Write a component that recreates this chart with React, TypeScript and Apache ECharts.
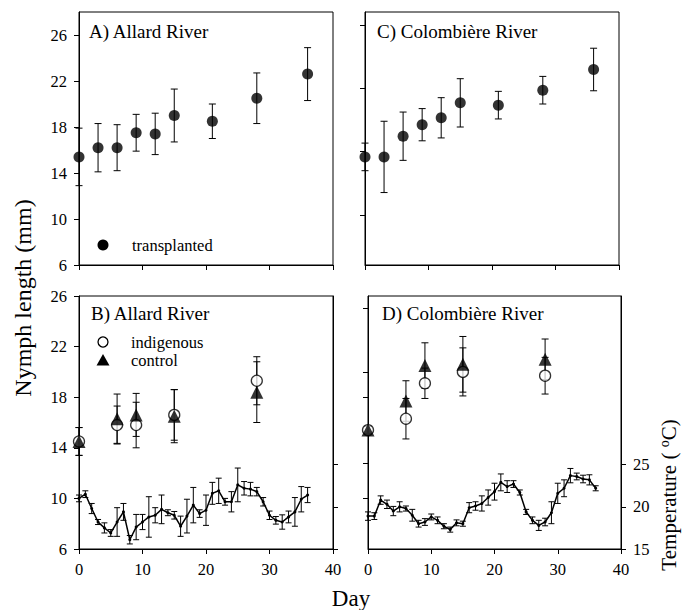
import React, { useEffect, useRef } from 'react';
import * as echarts from 'echarts';

const FONT = 'Liberation Serif, DejaVu Serif, serif';

// ---- Top panels: transplanted nymphs ----
const daysTop = [0, 3, 6, 9, 12, 15, 21, 28, 36];
const allardTransplanted = [15.4, 16.2, 16.2, 17.5, 17.4, 19.0, 18.5, 20.5, 22.6];
const allardTransplantedSD = [2.5, 2.1, 2.0, 1.6, 1.8, 2.3, 1.5, 2.2, 2.3];
const colombiereTransplanted = [15.4, 15.4, 17.2, 18.2, 18.8, 20.1, 19.9, 21.2, 23.0];
const colombiereTransplantedSD = [1.2, 3.1, 2.1, 1.4, 1.75, 2.1, 1.2, 1.2, 1.85];

// ---- Bottom panels: indigenous and control ----
const daysBottom = [0, 6, 9, 15, 28];
const allardIndigenous = [14.5, 15.8, 15.8, 16.6, 19.3];
const allardIndigenousSD = [1.1, 1.5, 1.8, 2.0, 1.9];
const allardControl = [14.5, 16.3, 16.6, 16.5, 18.4];
const allardControlSD = [1.1, 1.95, 1.7, 2.1, 2.4];
const colombiereIndigenous = [15.4, 16.3, 19.1, 20.0, 19.7];
const colombiereIndigenousSD = [0.3, 1.6, 1.2, 1.9, 1.45];
const colombiereControl = [15.4, 17.7, 20.5, 20.6, 21.0];
const colombiereControlSD = [0.3, 1.6, 1.8, 2.2, 1.6];

// ---- Daily water temperature (°C) ----
const tempDays = [0, 1, 2, 3, 4, 5, 6, 7, 8, 9, 10, 11, 12, 13, 14, 15, 16, 17, 18, 19, 20, 21, 22, 23, 24, 25, 26, 27, 28, 29, 30, 31, 32, 33, 34, 35, 36];
const allardTemp = [21.0, 21.5, 19.8, 18.2, 17.5, 16.9, 18.2, 19.4, 16.1, 17.6, 18.2, 18.8, 19.0, 19.7, 19.3, 19.0, 17.7, 18.9, 20.2, 19.2, 19.6, 21.6, 21.9, 20.6, 20.6, 22.6, 22.2, 22.1, 21.8, 20.6, 19.0, 18.4, 18.2, 18.8, 19.4, 20.9, 21.4];
const allardTempSD = [0.4, 0.4, 0.6, 0.3, 0.6, 0.4, 1.7, 1.0, 0.5, 1.5, 0.9, 2.4, 0.9, 1.7, 0.35, 0.45, 1.2, 2.0, 2.1, 0.45, 1.8, 1.3, 1.5, 0.4, 1.2, 2.0, 0.8, 0.8, 0.5, 0.5, 0.5, 0.45, 0.85, 0.7, 1.7, 1.5, 0.9];
const colombiereTemp = [18.9, 18.9, 20.8, 20.3, 19.5, 20.0, 19.8, 19.0, 18.0, 18.2, 18.8, 18.4, 17.7, 17.3, 18.1, 18.0, 19.9, 20.1, 20.4, 21.1, 21.8, 22.9, 22.4, 22.7, 21.7, 19.4, 18.4, 17.8, 18.2, 19.3, 21.6, 22.2, 23.7, 23.6, 23.3, 23.2, 22.2];
const colombiereTempSD = [0.5, 0.4, 0.5, 0.5, 0.55, 0.6, 0.3, 0.7, 0.4, 0.4, 0.35, 0.4, 0.3, 0.3, 0.35, 0.3, 0.6, 0.5, 0.9, 0.9, 1.0, 1.0, 0.7, 0.4, 0.3, 0.3, 0.4, 0.6, 0.45, 1.3, 1.2, 1.0, 0.85, 0.4, 0.45, 0.6, 0.3];

// ---- Tick values ----
const lengthTicks = [6, 10, 14, 18, 22, 26];
const tempTicks = [15, 20, 25];
const colombiereTopLeftTicks = [10.35, 15.85, 21.35, 26.85];
const colombiereBottomLeftTicks = [10, 12.8, 18, 20, 25];

const pts = (xs: number[], ys: number[]) => xs.map((x, i) => [x, ys[i]]);
const errData = (xs: number[], ys: number[], sd: number[]) =>
  xs.map((x, i) => [x, ys[i] - sd[i], ys[i] + sd[i]]);

const errSeries = (xi: number, yi: number, data: number[][], cap: number) => ({
  type: 'custom',
  xAxisIndex: xi,
  yAxisIndex: yi,
  data,
  encode: { x: 0, y: [1, 2] },
  z: 1,
  silent: true,
  renderItem: (_params: any, api: any) => {
    const x = api.value(0);
    const lo = api.coord([x, api.value(1)]);
    const hi = api.coord([x, api.value(2)]);
    const st = { stroke: '#000', lineWidth: 1 };
    return {
      type: 'group',
      children: [
        { type: 'line', shape: { x1: lo[0], y1: lo[1], x2: hi[0], y2: hi[1] }, style: st },
        { type: 'line', shape: { x1: lo[0] - cap, y1: lo[1], x2: lo[0] + cap, y2: lo[1] }, style: st },
        { type: 'line', shape: { x1: hi[0] - cap, y1: hi[1], x2: hi[0] + cap, y2: hi[1] }, style: st },
      ],
    };
  },
});

const xAxisDef = (gridIndex: number, showLabels: boolean) => ({
  type: 'value',
  gridIndex,
  min: 0,
  max: 40,
  interval: 10,
  axisLine: { show: true, onZero: false, lineStyle: { color: '#000', width: 1 } },
  axisTick: { show: true, inside: false, length: 5, lineStyle: { color: '#000', width: 1 } },
  axisLabel: { show: showLabels, color: '#000', fontFamily: FONT, fontSize: 16.5, margin: 12 },
  splitLine: { show: false },
});

const yAxisDef = (
  gridIndex: number,
  min: number,
  max: number,
  ticks: number[],
  showLabels: boolean,
  position: 'left' | 'right' = 'left'
) => ({
  type: 'value',
  gridIndex,
  position,
  min,
  max,
  axisLine: { show: true, onZero: false, lineStyle: { color: '#000', width: 1 } },
  axisTick: { show: true, inside: false, length: 5, customValues: ticks, lineStyle: { color: '#000', width: 1 } },
  axisLabel: { show: showLabels, customValues: ticks, color: '#000', fontFamily: FONT, fontSize: 16.5, margin: 12 },
  splitLine: { show: false },
});

const openCircle = { color: '#fff', borderColor: '#000', borderWidth: 1.3 };

const txt = (text: string, x: number, y: number, size: number, extra: any = {}) => ({
  type: 'text',
  x,
  y,
  ...extra,
  style: { text, fontSize: size, fontFamily: FONT, fill: '#000', align: 'left', verticalAlign: 'middle', ...(extra.style || {}) },
});

export default function App() {
  const ref = useRef<HTMLDivElement>(null);

  useEffect(() => {
    if (!ref.current) return;
    const chart = echarts.init(ref.current, null, { renderer: 'svg' });
    const gridBase = { show: true, borderColor: '#000', borderWidth: 1, backgroundColor: 'transparent', containLabel: false, outerBoundsMode: 'none' };
    const option: any = {
      animation: false,
      backgroundColor: '#fff',
      textStyle: { fontFamily: FONT },
      grid: [
        { ...gridBase, left: 79, top: 12, width: 254, height: 253 },
        { ...gridBase, left: 365, top: 12, width: 254, height: 253 },
        { ...gridBase, left: 79, top: 296, width: 254, height: 253 },
        { ...gridBase, left: 368, top: 296, width: 253, height: 253 },
      ],
      xAxis: [xAxisDef(0, false), xAxisDef(1, false), xAxisDef(2, true), xAxisDef(3, true)],
      yAxis: [
        yAxisDef(0, 6, 28, lengthTicks, true),
        yAxisDef(1, 6, 28, colombiereTopLeftTicks, false),
        yAxisDef(2, 6, 26, lengthTicks, true),
        yAxisDef(3, 6, 26, colombiereBottomLeftTicks, false),
        yAxisDef(2, 15, 45, tempTicks, false, 'right'),
        yAxisDef(3, 15, 45, tempTicks, true, 'right'),
      ],
      graphic: [
        txt('A) Allard River', 89, 31, 19),
        txt('C) Colombière River', 377, 31, 19),
        txt('B) Allard River', 91, 313, 19),
        txt('D) Colombière River', 382, 313, 19),
        // legends
        { type: 'circle', shape: { cx: 103, cy: 245, r: 5.5 }, style: { fill: '#000' } },
        txt('transplanted', 132, 245, 16.5),
        { type: 'circle', shape: { cx: 103, cy: 342, r: 5 }, style: { fill: '#fff', stroke: '#000', lineWidth: 1.3 } },
        txt('indigenous', 131, 342, 16.5),
        { type: 'polygon', shape: { points: [[96.5, 365.5], [109.5, 365.5], [103, 354]] }, style: { fill: '#000' } },
        txt('control', 131, 360, 16.5),
        // axis titles
        txt('Nymph length (mm)', 23, 298, 24, { rotation: Math.PI / 2, style: { align: 'center' } }),
        txt('Day', 351, 598, 23, { style: { align: 'center' } }),
        {
          type: 'text',
          x: 668,
          y: 495,
          rotation: Math.PI / 2,
          style: {
            text: '{a|Temperature ( }{s|o}{a|C)}',
            align: 'center',
            verticalAlign: 'middle',
            fill: '#000',
            rich: {
              a: { fontSize: 21, fontFamily: FONT, fill: '#000', lineHeight: 22, verticalAlign: 'bottom' },
              s: { fontSize: 14, fontFamily: FONT, fill: '#000', lineHeight: 22, verticalAlign: 'top' },
            },
          },
        },
      ],
      series: [
        // Panel A
        errSeries(0, 0, errData(daysTop, allardTransplanted, allardTransplantedSD), 3.5),
        { type: 'scatter', name: 'transplanted', xAxisIndex: 0, yAxisIndex: 0, data: pts(daysTop, allardTransplanted), symbol: 'circle', symbolSize: 11, itemStyle: { color: '#000' }, z: 3 },
        // Panel C
        errSeries(1, 1, errData(daysTop, colombiereTransplanted, colombiereTransplantedSD), 3.5),
        { type: 'scatter', name: 'transplanted', xAxisIndex: 1, yAxisIndex: 1, data: pts(daysTop, colombiereTransplanted), symbol: 'circle', symbolSize: 11, itemStyle: { color: '#000' }, z: 3 },
        // Panel B
        errSeries(2, 2, errData(daysBottom, allardIndigenous, allardIndigenousSD), 3.5),
        errSeries(2, 2, errData(daysBottom, allardControl, allardControlSD), 3.5),
        { type: 'scatter', name: 'indigenous', xAxisIndex: 2, yAxisIndex: 2, data: pts(daysBottom, allardIndigenous), symbol: 'circle', symbolSize: 11, itemStyle: openCircle, z: 3 },
        { type: 'scatter', name: 'control', xAxisIndex: 2, yAxisIndex: 2, data: pts(daysBottom, allardControl), symbol: 'triangle', symbolSize: 13, itemStyle: { color: '#000' }, z: 4 },
        errSeries(2, 4, errData(tempDays, allardTemp, allardTempSD), 3),
        { type: 'line', name: 'Allard temperature', xAxisIndex: 2, yAxisIndex: 4, data: pts(tempDays, allardTemp), symbol: 'circle', symbolSize: 3, showSymbol: true, itemStyle: { color: '#000' }, lineStyle: { color: '#000', width: 1.5 }, z: 2 },
        // Panel D
        errSeries(3, 3, errData(daysBottom, colombiereIndigenous, colombiereIndigenousSD), 3.5),
        errSeries(3, 3, errData(daysBottom, colombiereControl, colombiereControlSD), 3.5),
        { type: 'scatter', name: 'indigenous', xAxisIndex: 3, yAxisIndex: 3, data: pts(daysBottom, colombiereIndigenous), symbol: 'circle', symbolSize: 11, itemStyle: openCircle, z: 3 },
        { type: 'scatter', name: 'control', xAxisIndex: 3, yAxisIndex: 3, data: pts(daysBottom, colombiereControl), symbol: 'triangle', symbolSize: 13, itemStyle: { color: '#000' }, z: 4 },
        errSeries(3, 5, errData(tempDays, colombiereTemp, colombiereTempSD), 3),
        { type: 'line', name: 'Colombière temperature', xAxisIndex: 3, yAxisIndex: 5, data: pts(tempDays, colombiereTemp), symbol: 'circle', symbolSize: 3, showSymbol: true, itemStyle: { color: '#000' }, lineStyle: { color: '#000', width: 1.5 }, z: 2 },
      ],
    };
    chart.setOption(option);
    return () => chart.dispose();
  }, []);

  return (
    <div
      ref={ref}
      style={{ position: 'absolute', left: 0, top: 0, width: 683, height: 610, background: '#fff' }}
    />
  );
}
